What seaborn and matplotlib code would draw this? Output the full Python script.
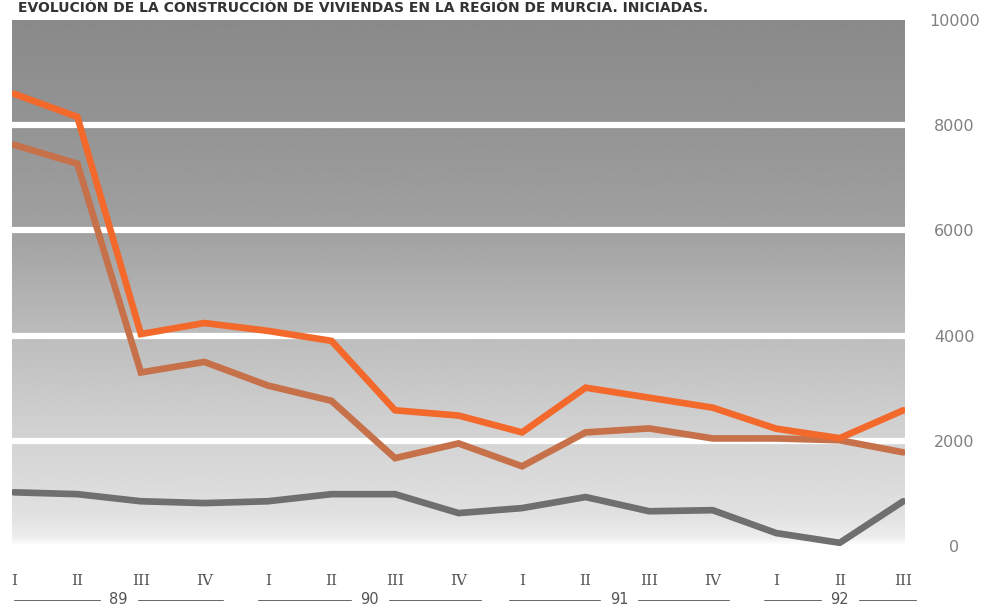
import numpy as np
import pandas as pd
import matplotlib
matplotlib.use("Agg")
import matplotlib.pyplot as plt
import matplotlib.transforms as mtransforms
import seaborn as sns

# Datos (viviendas iniciadas por trimestre, Región de Murcia)
trimestres = ["I", "II", "III", "IV", "I", "II", "III", "IV",
              "I", "II", "III", "IV", "I", "II", "III"]
anios = ["89", "90", "91", "92"]
anio_rango = [(0, 3.3), (3.85, 7.35), (7.8, 11.25), (11.8, 14.2)]

serie_total = [8600, 8160, 4030, 4240, 4090, 3900, 2580, 2480,
               2160, 3010, 2820, 2630, 2230, 2050, 2580]
serie_libre = [7630, 7270, 3300, 3500, 3050, 2760, 1670, 1950,
               1515, 2160, 2235, 2045, 2045, 2010, 1780]
serie_protegida = [1020, 985, 850, 815, 850, 985, 985, 625,
                   720, 930, 660, 680, 245, 60, 850]

nombres = ["protegida", "libre", "total"]
colores = {"protegida": "#6f6f6f", "libre": "#c6714a", "total": "#f3692b"}

df = pd.concat([
    pd.DataFrame({"idx": range(len(trimestres)), "valor": v, "serie": n})
    for n, v in zip(nombres, [serie_protegida, serie_libre, serie_total])
])

sns.set_style("white")
fig = plt.figure(figsize=(9.94, 6.10), dpi=100)
ax = fig.add_axes([0.012, 0.105, 0.898, 0.862])

xmin, xmax = -0.03, 14.02
ymin, ymax = 0, 10000

# fondo en degradado gris
niveles = np.linspace(0, 10000, 400)
gris = np.interp(niveles, [0, 150, 600, 2000, 4000, 6000, 8000, 10000],
                 [1.0, 0.93, 0.88, 0.83, 0.74, 0.63, 0.58, 0.54])
img = np.repeat(gris[:, None], 2, axis=1)
ax.imshow(img, extent=[xmin, xmax, 0, 10000], origin="lower", aspect="auto",
          cmap="gray", vmin=0, vmax=1, zorder=0)
for y in [2000, 4000, 6000, 8000]:
    ax.axhline(y, color="white", lw=4.5, zorder=1)

sns.lineplot(data=df, x="idx", y="valor", hue="serie", hue_order=nombres,
             palette=colores, linewidth=4.8, legend=False, ax=ax, zorder=3)
for ln in ax.lines[-3:]:
    ln.set_solid_joinstyle("miter")

ax.set_xlim(xmin, xmax)
ax.set_ylim(ymin, ymax)
for s in ax.spines.values():
    s.set_visible(False)

# eje x: trimestres
ax.set_xticks(range(len(trimestres)))
ax.set_xticklabels(trimestres, family="DejaVu Serif", fontsize=11, color="#555555")
ax.tick_params(axis="x", length=17, width=0.7, color="#aaaaaa", pad=3, direction="out")
ax.set_xlabel("")
ax.set_ylabel("")

# eje y a la derecha
ax.yaxis.tick_right()
ax.set_yticks([0, 2000, 4000, 6000, 8000, 10000])
ax.set_yticklabels(["0", "2000", "4000", "6000", "8000", "10000"],
                   fontsize=11.5, color="#808080")
ax.tick_params(axis="y", length=0, pad=36)
for lbl in ax.get_yticklabels():
    lbl.set_horizontalalignment("center")

# años debajo
trans = mtransforms.blended_transform_factory(ax.transData, ax.transAxes)
ya = -0.102
for anio, (a, b) in zip(anios, anio_rango):
    c = (a + b) / 2
    ax.text(c, ya, anio, transform=trans, ha="center", va="center",
            fontsize=10.5, color="#555555")
    ax.plot([a, c - 0.3], [ya, ya], transform=trans, color="#666666",
            lw=0.7, clip_on=False)
    ax.plot([c + 0.3, b], [ya, ya], transform=trans, color="#666666",
            lw=0.7, clip_on=False)

fig.text(0.018, 0.998, "EVOLUCIÓN DE LA CONSTRUCCIÓN DE VIVIENDAS EN LA REGIÓN DE MURCIA. INICIADAS.",
         ha="left", va="top", fontsize=10, fontweight="bold", color="#333333")

fig.savefig("out.png", dpi=100)
